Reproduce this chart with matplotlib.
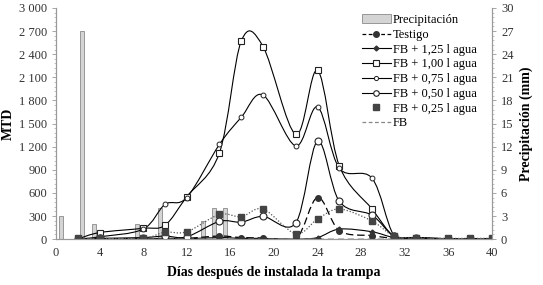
import numpy as np
import matplotlib
matplotlib.use("Agg")
import matplotlib.pyplot as plt
from matplotlib.path import Path
from matplotlib.patches import PathPatch, Patch
from matplotlib.lines import Line2D
from matplotlib.ticker import FuncFormatter, MultipleLocator

plt.rcParams['font.family'] = ['Liberation Serif', 'DejaVu Serif']

################ Data ################

dias = [2, 4, 8, 10, 12, 15, 17, 19, 22, 24, 26, 29, 31, 33, 36, 38, 40]

testigo = [0, 5, 5, 10, 10, 40, 20, 15, 0, 540, 110, 45, 10, 10, 5, 5, 5]
fb_125 = [0, 5, 5, 5, 5, 20, 10, 10, 0, 20, 130, 95, 20, 10, 5, 5, 5]
fb_100 = [0, 85, 140, 180, 550, 1120, 2570, 2500, 1360, 2190, 950, 390, 40, 20, 5, 5, 5]
fb_075 = [0, 30, 130, 450, 540, 1230, 1580, 1870, 1210, 1715, 920, 790, 50, 20, 5, 5, 5]
fb_050 = [0, 10, 20, 40, 30, 230, 220, 295, 210, 1270, 490, 310, 40, 20, 5, 5, 5]
fb_025 = [10, 10, 10, 90, 95, 320, 290, 390, 70, 260, 390, 235, 40, 20, 10, 10, 10]
fb = [0, 0, 0, 0, 0, 0, 0, 0, 0, 0, 0, 0, 0, 0, 0, 0, 0]

lluvia_dia = [0.45, 2.4, 3.5, 7.4, 9.55, 13.5, 14.5, 15.5]
lluvia_mm = [3, 27, 2, 2, 4, 2.3, 4, 4]

################ Smooth line helper ################

def smooth_path(x, y):
    x = np.asarray(x, float)
    y = np.asarray(y, float)
    pts = np.column_stack([x, y])
    verts = [pts[0]]
    codes = [Path.MOVETO]
    n = len(pts)
    for i in range(n - 1):
        p0 = pts[max(i - 1, 0)]
        p1 = pts[i]
        p2 = pts[i + 1]
        p3 = pts[min(i + 2, n - 1)]
        c1 = p1 + (p2 - p0) / 6.0
        c2 = p2 - (p3 - p1) / 6.0
        verts += [c1, c2, p2]
        codes += [Path.CURVE4] * 3
    return Path(verts, codes)

################ Plot ################

fig = plt.figure(figsize=(5.43, 2.85), dpi=100)
ax1 = fig.add_axes([0.103, 0.161, 0.803, 0.811])
ax2 = ax1.twinx()
ax1.set_zorder(ax2.get_zorder() + 1)
ax1.patch.set_visible(False)

ax2.bar(lluvia_dia, lluvia_mm, width=0.35, color='#d4d4d4',
        edgecolor='#8a8a8a', linewidth=0.6)

series = [
    (testigo, dict(color='black', ls=(0, (6, 3)), lw=0.9), dict(marker='o', ms=4, mfc='#333333', mec='#333333')),
    (fb_125, dict(color='black', ls='-', lw=0.8), dict(marker='D', ms=2.5, mfc='#333333', mec='#333333')),
    (fb_100, dict(color='black', ls='-', lw=0.8), dict(marker='s', ms=5, mfc='white', mec='#222222', mew=0.8)),
    (fb_075, dict(color='black', ls='-', lw=0.8), dict(marker='o', ms=3.5, mfc='white', mec='#222222', mew=0.7)),
    (fb_050, dict(color='black', ls='-', lw=0.8), dict(marker='o', ms=5, mfc='white', mec='#222222', mew=0.8)),
    (fb_025, dict(color='#555555', ls=(0, (1, 1.5)), lw=0.9), dict(marker='s', ms=4.5, mfc='#444444', mec='#444444')),
    (fb, dict(color='#888888', ls=(0, (5, 3)), lw=0.9), None),
]

for vals, lstyle, mstyle in series:
    patch = PathPatch(smooth_path(dias, vals), fill=False, edgecolor=lstyle['color'],
                      linestyle=lstyle['ls'], linewidth=lstyle['lw'])
    ax1.add_patch(patch)
    if mstyle is not None:
        ax1.plot(dias, vals, linestyle='none', **mstyle)

ax1.set_xlim(0, 40)
ax1.set_ylim(0, 3000)
ax2.set_ylim(0, 30)

ax1.xaxis.set_major_locator(MultipleLocator(4))
ax1.yaxis.set_major_locator(MultipleLocator(300))
ax1.yaxis.set_minor_locator(MultipleLocator(60))
ax2.yaxis.set_major_locator(MultipleLocator(3))
ax2.yaxis.set_minor_locator(MultipleLocator(0.6))

ax1.yaxis.set_major_formatter(FuncFormatter(lambda v, p: f"{int(v):,}".replace(",", " ")))

for ax in (ax1, ax2):
    for s in ax.spines.values():
        s.set_color('#999999')
        s.set_linewidth(0.8)
    ax.spines['top'].set_visible(False)
    ax.tick_params(labelsize=9, colors='#333333', length=3, width=0.6)
    ax.tick_params(which='minor', length=1.5, width=0.5, color='#aaaaaa')
ax1.tick_params(axis='y', color='#999999')
ax2.tick_params(axis='y', color='#999999')
ax1.tick_params(axis='x', length=0, pad=6)

ax1.set_ylabel('MTD', fontsize=10, fontweight='bold', labelpad=3)
ax1.set_xlabel('Días después de instalada la trampa', fontsize=10, fontweight='bold', labelpad=5)
ax2.set_ylabel('Precipitación (mm)', fontsize=10, fontweight='bold', labelpad=4)

handles = [
    Patch(facecolor='#d4d4d4', edgecolor='#8a8a8a', linewidth=0.6),
    Line2D([], [], color='black', ls=(0, (3, 2)), lw=0.9, marker='o', ms=4, mfc='#333333', mec='#333333'),
    Line2D([], [], color='black', lw=0.8, marker='D', ms=2.5, mfc='#333333', mec='#333333'),
    Line2D([], [], color='black', lw=0.8, marker='s', ms=4, mfc='white', mec='#222222', mew=0.8),
    Line2D([], [], color='black', lw=0.8, marker='o', ms=3, mfc='white', mec='#222222', mew=0.7),
    Line2D([], [], color='black', lw=0.8, marker='o', ms=4, mfc='white', mec='#222222', mew=0.8),
    Line2D([], [], ls='none', marker='s', ms=4, mfc='#444444', mec='#444444'),
    Line2D([], [], color='#888888', ls=(0, (3, 2)), lw=0.9),
]
labels = ['Precipitación', 'Testigo', 'FB + 1,25 l agua', 'FB + 1,00 l agua',
          'FB + 0,75 l agua', 'FB + 0,50 l agua', 'FB + 0,25 l agua', 'FB']
ax1.legend(handles, labels, loc='upper left', bbox_to_anchor=(0.69, 0.995), frameon=False,
           fontsize=9, handlelength=2.3, handletextpad=0.2, labelspacing=0.22,
           borderaxespad=0)

fig.savefig('out.png', dpi=100)
